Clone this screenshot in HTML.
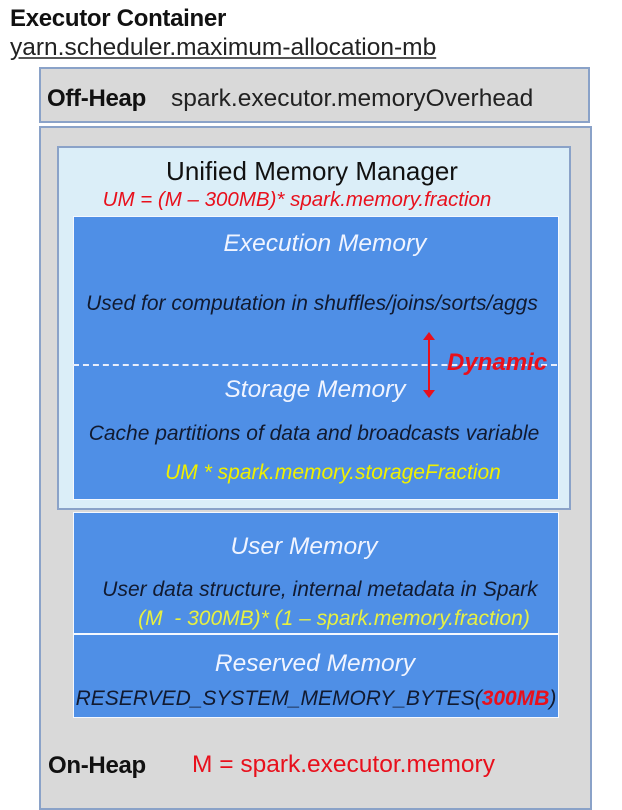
<!DOCTYPE html>
<html><head><style>
body{margin:0;width:622px;height:804px;background:#fff;position:relative;overflow:hidden;font-family:"Liberation Sans",sans-serif}
.a{position:absolute}
.c{position:absolute;width:600px;text-align:center;white-space:nowrap}
i{font-style:italic}
</style></head><body>
<div class="a" style="left:10px;top:5px;font-size:24px;font-weight:bold;color:#111;letter-spacing:-0.3px">Executor Container</div>
<div class="a" style="left:10px;top:34px;font-size:24.5px;color:#222;text-decoration:underline;text-decoration-color:#555">yarn.scheduler.maximum-allocation-mb</div>

<div class="a" style="left:39px;top:67px;width:547px;height:52px;background:#d9d9d9;border:2px solid #8aa2c8"></div>
<div class="a" style="left:47px;top:85px;font-size:24px;font-weight:bold;color:#111;letter-spacing:-0.3px">Off-Heap</div>
<div class="a" style="left:171px;top:85px;font-size:24.5px;color:#222">spark.executor.memoryOverhead</div>

<div class="a" style="left:39px;top:126px;width:549px;height:680px;background:#d9d9d9;border:2px solid #8aa2c8"></div>

<div class="a" style="left:57px;top:146px;width:510px;height:360px;background:#dbeef8;border:2px solid #8aa2c8"></div>
<div class="c" style="left:12px;top:156px;font-size:26px;color:#111">Unified Memory Manager</div>
<div class="c" style="left:-3px;top:188px;font-size:20.5px;color:#e8101c"><i>UM = (M – 300MB)* spark.memory.fraction</i></div>

<div class="a" style="left:73px;top:216px;width:484px;height:282px;background:#4f8fe6;border:1px solid #f4f8ff"></div>
<div class="c" style="left:25px;top:230px;font-size:24.5px;color:#f0f4ff"><i>Execution Memory</i></div>
<div class="c" style="left:12px;top:292px;font-size:21px;color:#111a30"><i>Used for computation in shuffles/joins/sorts/aggs</i></div>
<div class="a" style="left:73px;top:364px;width:484px;border-top:2px dashed #e8eefc"></div>
<div class="c" style="left:15px;top:376px;font-size:24.5px;color:#f0f4ff"><i>Storage Memory</i></div>
<div class="c" style="left:14px;top:422px;font-size:21px;color:#111a30"><i>Cache partitions of data and broadcasts variable</i></div>
<div class="c" style="left:33px;top:461px;font-size:21px;color:#f0f000"><i>UM * spark.memory.storageFraction</i></div>
<svg class="a" style="left:420px;top:332px" width="18" height="66"><line x1="9" y1="6" x2="9" y2="60" stroke="#e8101c" stroke-width="2"/><polygon points="3,8 9,0 15,8" fill="#e8101c"/><polygon points="3,58 9,66 15,58" fill="#e8101c"/></svg>
<div class="a" style="left:447px;top:349px;font-size:24px;font-weight:bold;color:#e8101c"><i>Dynamic</i></div>

<div class="a" style="left:73px;top:512px;width:484px;height:120px;background:#4f8fe6;border:1px solid #f4f8ff"></div>
<div class="c" style="left:4px;top:533px;font-size:24.5px;color:#f0f4ff"><i>User Memory</i></div>
<div class="c" style="left:20px;top:578px;font-size:21px;color:#111a30"><i>User data structure, internal metadata in Spark</i></div>
<div class="c" style="left:34px;top:607px;font-size:21px;color:#e8f040"><i>(M &nbsp;- 300MB)* (1 – spark.memory.fraction)</i></div>
<div class="a" style="left:73px;top:634px;width:484px;height:82px;background:#4f8fe6;border:1px solid #f4f8ff"></div>
<div class="c" style="left:15px;top:650px;font-size:24.5px;color:#f0f4ff"><i>Reserved Memory</i></div>
<div class="c" style="left:16px;top:687px;font-size:21px;color:#111a30"><i>RESERVED_SYSTEM_MEMORY_BYTES(<b style="color:#e8101c">300MB</b>)</i></div>

<div class="a" style="left:48px;top:752px;font-size:24px;font-weight:bold;color:#111;letter-spacing:-0.3px">On-Heap</div>
<div class="a" style="left:192px;top:751px;font-size:24.5px;color:#e8101c">M = spark.executor.memory</div>
</body></html>
